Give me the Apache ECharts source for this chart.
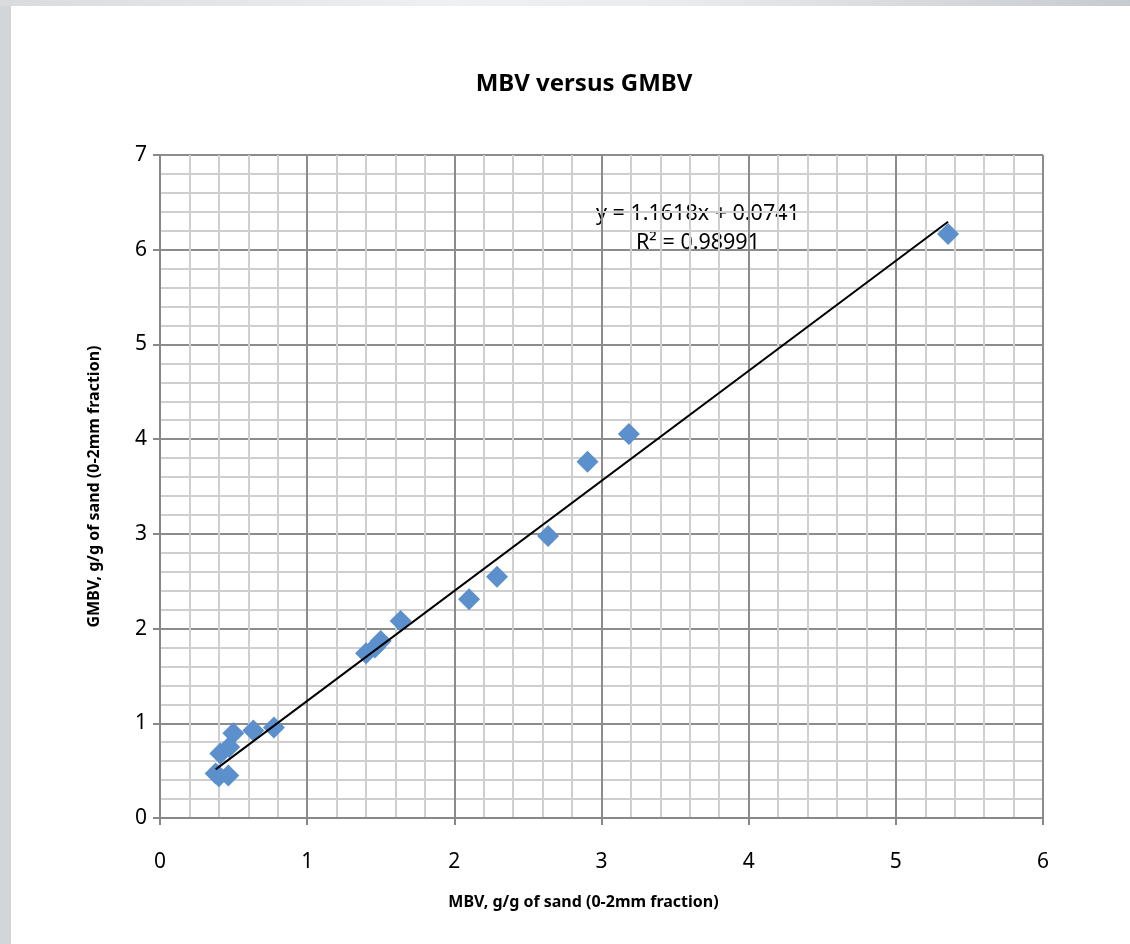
<!DOCTYPE html>
<html>
<head>
<meta charset="utf-8">
<script src="https://cdn.jsdelivr.net/npm/echarts@6/dist/echarts.min.js"></script>
<style>
html,body{margin:0;padding:0;width:1130px;height:944px;overflow:hidden;background:#d3d6d9;}
#topbar{position:absolute;left:0;top:0;width:1130px;height:6px;background:linear-gradient(to right,#d9dbdd,#eef0f1 40%,#e9ebec 60%,#c8cbce);}
#main{position:absolute;left:11px;top:6px;width:1119px;height:938px;background:#fff;}
</style>
</head>
<body>
<div id="topbar"></div>
<div id="main"></div>
<script>
const titleText = 'MBV versus GMBV';
const xName = 'MBV, g/g of sand (0-2mm fraction)';
const yName = 'GMBV, g/g of sand (0-2mm fraction)';
const mbv  = [0.378, 0.40, 0.41, 0.464, 0.47, 0.498, 0.634, 0.774, 1.40, 1.46, 1.50, 1.635, 2.10, 2.29, 2.637, 2.905, 3.186, 5.355];
const gmbv = [0.47, 0.44, 0.68, 0.45, 0.75, 0.895, 0.925, 0.955, 1.74, 1.80, 1.87, 2.08, 2.31, 2.547, 2.978, 3.76, 4.055, 6.167];
const slope = 1.1618;
const intercept = 0.0741;
const eqText = 'y = 1.1618x + 0.0741';
const r2Text = 'R² = 0.98991';

const pts = mbv.map((x, i) => [x, gmbv[i]]);
const xmin = Math.min(...mbv), xmax = Math.max(...mbv);
const trend = [[xmin, slope * xmin + intercept], [xmax, slope * xmax + intercept]];

const font = 'Noto Sans';
const chart = echarts.init(document.getElementById('main'));
chart.setOption({
  animation: false,
  title: {
    text: titleText, left: 568, top: 61, textAlign: 'center',
    textStyle: {fontFamily: font, fontSize: 24, fontWeight: 'bold', color: '#000'}
  },
  grid: {left: 149, right: 87, top: 149, bottom: 126},
  xAxis: {
    type: 'value', min: 0, max: 6, interval: 1,
    name: xName, nameLocation: 'middle', nameGap: 76,
    nameTextStyle: {fontFamily: font, fontSize: 16, fontWeight: 'bold', color: '#000', padding: [0, 36, 0, 0]},
    axisLine: {show: true, lineStyle: {color: '#888', width: 2}},
    axisTick: {show: true, length: 7, lineStyle: {color: '#888', width: 2}},
    minorTick: {show: false, splitNumber: 5},
    axisLabel: {fontFamily: font, fontSize: 21, color: '#000', margin: 34},
    splitLine: {show: true, lineStyle: {color: '#8c8c8c', width: 2}},
    minorSplitLine: {show: true, lineStyle: {color: '#cfcfcf', width: 2}}
  },
  yAxis: {
    type: 'value', min: 0, max: 7, interval: 1,
    name: yName, nameLocation: 'middle', nameGap: 58,
    nameTextStyle: {fontFamily: font, fontSize: 16, fontWeight: 'bold', color: '#000'},
    axisLine: {show: true, lineStyle: {color: '#888', width: 2}},
    axisTick: {show: true, length: 7, lineStyle: {color: '#888', width: 2}},
    minorTick: {show: false, splitNumber: 5},
    axisLabel: {fontFamily: font, fontSize: 21, color: '#000', margin: 13},
    splitLine: {show: true, lineStyle: {color: '#8c8c8c', width: 2}},
    minorSplitLine: {show: true, lineStyle: {color: '#cfcfcf', width: 2}}
  },
  graphic: [
    {type: 'text', left: 585, top: 197, style: {text: eqText, fontFamily: font, fontSize: 21.5, fill: '#000'}},
    {type: 'text', left: 625, top: 226, style: {text: r2Text, fontFamily: font, fontSize: 21.5, fill: '#000'}}
  ],
  series: [
    {
      type: 'line', data: trend, showSymbol: false, symbol: 'none',
      lineStyle: {color: '#000', width: 2}, z: 3, silent: true
    },
    {
      type: 'scatter', data: pts, symbol: 'diamond', symbolSize: 22,
      itemStyle: {color: '#5b90cc', opacity: 1}, z: 2
    }
  ]
});
</script>
</body>
</html>
